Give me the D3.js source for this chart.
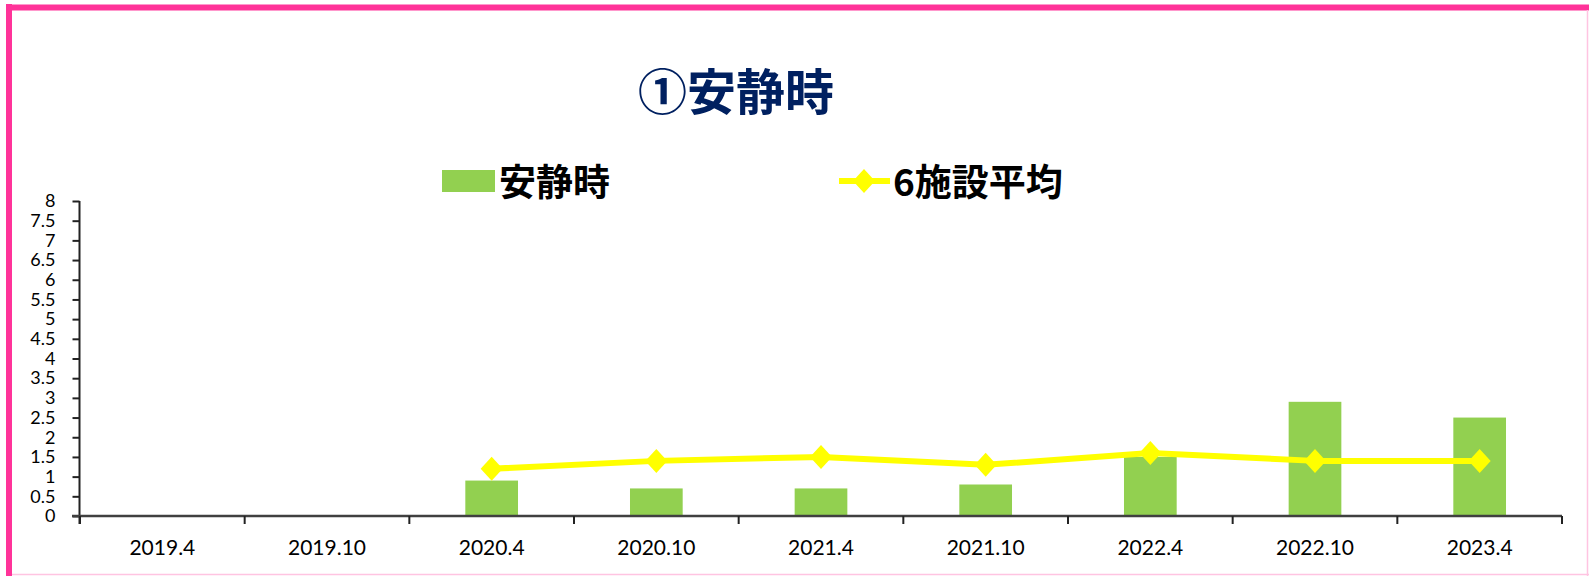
<!DOCTYPE html>
<html>
<head>
<meta charset="utf-8">
<script src="https://d3js.org/d3.v7.min.js"></script>
<style>
  body { margin: 0; background: #fff; }
</style>
</head>
<body>
<div id="chart"></div>
<script>
// values
const categories = ["2019.4", "2019.10", "2020.4", "2020.10", "2021.4", "2021.10", "2022.4", "2022.10", "2023.4"];
const restValues = [null, null, 0.9, 0.7, 0.7, 0.8, 1.5, 2.9, 2.5];
const avgValues = [null, null, 1.2, 1.4, 1.5, 1.3, 1.6, 1.4, 1.4];
const yTickValues = [0, 0.5, 1, 1.5, 2, 2.5, 3, 3.5, 4, 4.5, 5, 5.5, 6, 6.5, 7, 7.5, 8];
const titleText = "①安静時";
const barLabel = "安静時";
const lineLabel = "6施設平均";

const W = 1589, H = 576;
const jpFont = "'Noto Sans CJK JP', sans-serif";
const numFont = "Lato, 'Noto Sans', sans-serif";
const diamond = "M0,-12L11,0L0,12L-11,0Z";

const svg = d3.select("#chart").append("svg")
    .attr("width", W)
    .attr("height", H);

// pink frame (left/top thick, right/bottom cut off)
svg.append("line").attr("x1", 9).attr("x2", 9).attr("y1", 4).attr("y2", H)
    .attr("stroke", "#FF3399").attr("stroke-width", 6);
svg.append("line").attr("x1", 6).attr("x2", W).attr("y1", 7.5).attr("y2", 7.5)
    .attr("stroke", "#FF3399").attr("stroke-width", 6);
svg.append("line").attr("x1", W - 1.5).attr("x2", W - 1.5).attr("y1", 10).attr("y2", H)
    .attr("stroke", "#FFC4E1").attr("stroke-width", 1.5);
svg.append("line").attr("x1", 12).attr("x2", W).attr("y1", H - 1.5).attr("y2", H - 1.5)
    .attr("stroke", "#FFC4E1").attr("stroke-width", 1.5);

const x = d3.scaleBand().domain(categories).range([80, 1562]);
const y = d3.scaleLinear().domain([0, 8]).range([516, 201]);

// title
svg.append("text")
    .attr("x", 736).attr("y", 88)
    .attr("text-anchor", "middle")
    .attr("dominant-baseline", "central")
    .style("font-family", jpFont)
    .style("font-weight", "bold")
    .style("font-size", "49px")
    .style("fill", "#002060")
    .text(titleText);

// legend
const legend = svg.append("g");
legend.append("rect").attr("x", 442).attr("y", 170).attr("width", 53).attr("height", 22)
    .attr("fill", "#92D050");
legend.append("text").attr("x", 499).attr("y", 180)
    .attr("dominant-baseline", "central")
    .style("font-family", jpFont).style("font-weight", "bold").style("font-size", "37px")
    .style("fill", "#000").text(barLabel);
legend.append("line").attr("x1", 839).attr("x2", 890).attr("y1", 181).attr("y2", 181)
    .attr("stroke", "#FFFF00").attr("stroke-width", 6);
legend.append("path").attr("transform", "translate(864,181)")
    .attr("d", diamond)
    .attr("fill", "#FFFF00");
legend.append("text").attr("x", 893).attr("y", 180)
    .attr("dominant-baseline", "central")
    .style("font-family", jpFont).style("font-weight", "bold").style("font-size", "37px")
    .style("fill", "#000").text(lineLabel);

// bars
const barW = x.bandwidth() * 0.32;
svg.append("g").selectAll("rect")
    .data(categories.map((c, i) => ({ c, v: restValues[i] })).filter(d => d.v != null))
    .join("rect")
    .attr("x", d => x(d.c) + x.bandwidth() / 2 - barW / 2)
    .attr("y", d => y(d.v))
    .attr("width", barW)
    .attr("height", d => y(0) - y(d.v))
    .attr("fill", "#92D050");

// y axis
const yAxis = svg.append("g")
    .attr("transform", "translate(79.5,0)")
    .call(d3.axisLeft(y).tickValues(yTickValues).tickSize(7).tickPadding(17)
        .tickFormat(d3.format("")));
yAxis.select(".domain").attr("stroke", "#222").attr("stroke-width", 2).attr("d", "M0,201V524");
yAxis.selectAll(".tick line").attr("stroke", "#222").attr("stroke-width", 2);
yAxis.selectAll(".tick text")
    .style("font-family", numFont).style("font-size", "18px").style("fill", "#000");

// x axis
const xAxis = svg.append("g")
    .attr("transform", "translate(0,516)")
    .call(d3.axisBottom(x).tickSize(0).tickPadding(24));
xAxis.select(".domain").attr("stroke", "#404040").attr("stroke-width", 2.5).attr("d", "M72,0H1562");
xAxis.selectAll(".tick text")
    .style("font-family", numFont).style("font-size", "21px").style("fill", "#000");
xAxis.selectAll(".boundary")
    .data(categories.map(c => x(c)).concat([x.range()[1]]))
    .join("line")
    .attr("class", "boundary")
    .attr("x1", d => d).attr("x2", d => d)
    .attr("y1", 0).attr("y2", 8)
    .attr("stroke", "#222").attr("stroke-width", 2);

// average line
const avgData = categories.map((c, i) => ({ c, v: avgValues[i] })).filter(d => d.v != null);
const cx = d => x(d.c) + x.bandwidth() / 2;
svg.append("path")
    .datum(avgData)
    .attr("d", d3.line().x(cx).y(d => y(d.v)))
    .attr("fill", "none")
    .attr("stroke", "#FFFF00")
    .attr("stroke-width", 6)
    .attr("stroke-linejoin", "round");
svg.append("g").selectAll("path")
    .data(avgData)
    .join("path")
    .attr("transform", d => `translate(${cx(d)},${y(d.v)})`)
    .attr("d", diamond)
    .attr("fill", "#FFFF00");
</script>
</body>
</html>
